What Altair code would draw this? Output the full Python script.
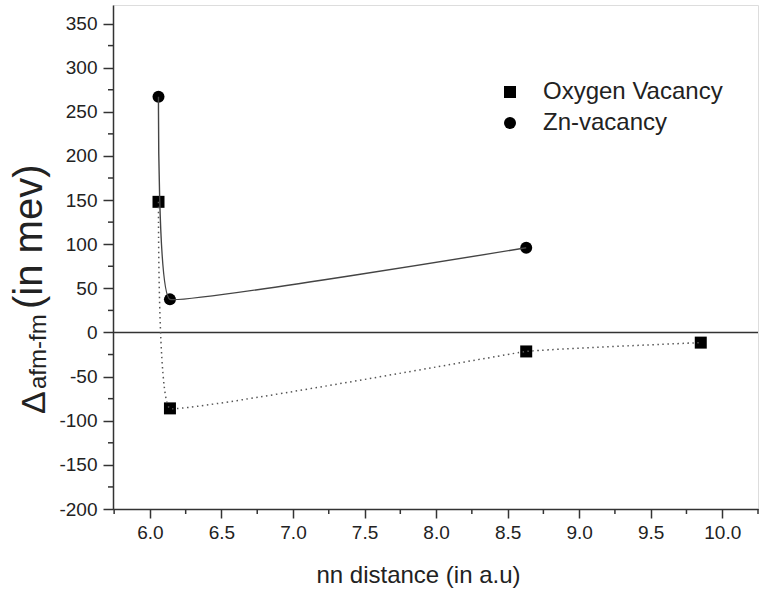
import altair as alt
import pandas as pd

# ---- data ----
oxy_x = [6.06, 6.14, 8.63, 9.85]
oxy_y = [148, -86, -21.5, -11.5]
zn_x = [6.06, 6.14, 8.63]
zn_y = [267, 37.5, 96]
series_names = ["Oxygen Vacancy", "Zn-vacancy"]

y_major = list(range(-200, 351, 50))
y_minor = list(range(-175, 351, 50))
x_major = [6.0, 6.5, 7.0, 7.5, 8.0, 8.5, 9.0, 9.5, 10.0]
x_minor = [5.75, 6.25, 6.75, 7.25, 7.75, 8.25, 8.75, 9.25, 9.75, 10.25]

pts = pd.DataFrame(
    {"x": oxy_x + zn_x,
     "y": oxy_y + zn_y,
     "series": [series_names[0]] * len(oxy_x) + [series_names[1]] * len(zn_x)}
)
oxy = pts[pts.series == series_names[0]]
zn = pts[pts.series == series_names[1]]

FONT = "Liberation Sans"
TXT = "#222222"
W, H = 645, 504
HYPHEN = "replace(datum.label, '\u2212', '-')"

xs = alt.Scale(domain=[5.742, 10.25], nice=False, zero=False)
ys = alt.Scale(domain=[-200, 371], nice=False, zero=False)

x_axis = alt.Axis(values=x_major, format=".1f", tickSize=9, labelPadding=5,
                  labelFontSize=19, labelColor=TXT, labelFont=FONT, grid=False,
                  domainColor="#333333", domainWidth=1.5, tickColor="#333333", tickWidth=1.5,
                  title="nn distance (in a.u)", titleFont=FONT, titleFontSize=24,
                  titleFontWeight="normal", titleColor=TXT, titleX=305, titleY=73,
                  titleAlign="center", titleBaseline="alphabetic")
y_axis = alt.Axis(values=y_major, tickSize=10, labelPadding=6, labelFontSize=19,
                  labelColor=TXT, labelFont=FONT, grid=False, title=None, labelExpr=HYPHEN,
                  domainColor="#333333", domainWidth=1.5, tickColor="#333333", tickWidth=1.5)

X = lambda: alt.X("x:Q", scale=xs, axis=x_axis)
Y = lambda: alt.Y("y:Q", scale=ys, axis=y_axis)

points = alt.Chart(pts).mark_point(filled=True, color="black", opacity=1, size=144).encode(
    x=X(),
    y=Y(),
    shape=alt.Shape("series:N",
                    scale=alt.Scale(domain=series_names, range=["square", "circle"]),
                    legend=alt.Legend(orient="none", legendX=385, legendY=75, title=None,
                                      labelFontSize=24, labelFont=FONT, labelColor=TXT,
                                      labelLimit=400,
                                      labelOffset=21, symbolSize=144, symbolFillColor="black",
                                      symbolStrokeWidth=0, rowPadding=7, padding=0)),
)

zero_line = alt.Chart(pd.DataFrame({"y": [0]})).mark_rule(color="#333333", strokeWidth=1.5).encode(
    y=Y()
)

zn_line = alt.Chart(zn).mark_line(color="#444444", strokeWidth=1.4, interpolate="cardinal",
                                  tension=0.8).encode(
    x=X(), y=Y(), order="x:Q"
)
oxy_line = alt.Chart(oxy).mark_line(color="#555555", strokeWidth=1.5, strokeDash=[1.5, 3.5],
                                    interpolate="cardinal", tension=0.8).encode(
    x=X(), y=Y(), order="x:Q"
)

y_minor_ticks = alt.Chart(pd.DataFrame({"y": y_minor})).mark_rule(color="#333333", strokeWidth=1.5).encode(
    y=Y(), x=alt.value(0), x2=alt.value(-5)
)
x_minor_ticks = alt.Chart(pd.DataFrame({"x": x_minor})).mark_rule(color="#333333", strokeWidth=1.5).encode(
    x=X(), y=alt.value(H), y2=alt.value(H + 5)
)

# y title with subscript, built from text pieces
ttl = pd.DataFrame({"t": ["\u0394", "afm-fm", "(in mev)"]})
t_delta = alt.Chart(ttl.iloc[[0]]).mark_text(angle=270, align="left", baseline="alphabetic",
                                            font=FONT, fontSize=34, color=TXT).encode(
    text="t:N", x=alt.value(-68), y=alt.value(409))
t_sub = alt.Chart(ttl.iloc[[1]]).mark_text(angle=270, align="left", baseline="alphabetic",
                                          font=FONT, fontSize=24, color=TXT).encode(
    text="t:N", x=alt.value(-67), y=alt.value(384))
t_main = alt.Chart(ttl.iloc[[2]]).mark_text(angle=270, align="left", baseline="alphabetic",
                                           font=FONT, fontSize=40, color=TXT).encode(
    text="t:N", x=alt.value(-71), y=alt.value(304))

chart = alt.layer(
    points, zero_line, y_minor_ticks, x_minor_ticks, zn_line, oxy_line, t_delta, t_sub, t_main
).properties(
    width=W, height=H,
    autosize=alt.AutoSizeParams(type="none"),
    padding={"left": 113, "top": 5, "right": 1, "bottom": 80},
).configure_view(stroke="#333333", strokeWidth=1.5).configure(background="white")

chart.save("out.html", embed_options={"renderer": "svg", "actions": False})
